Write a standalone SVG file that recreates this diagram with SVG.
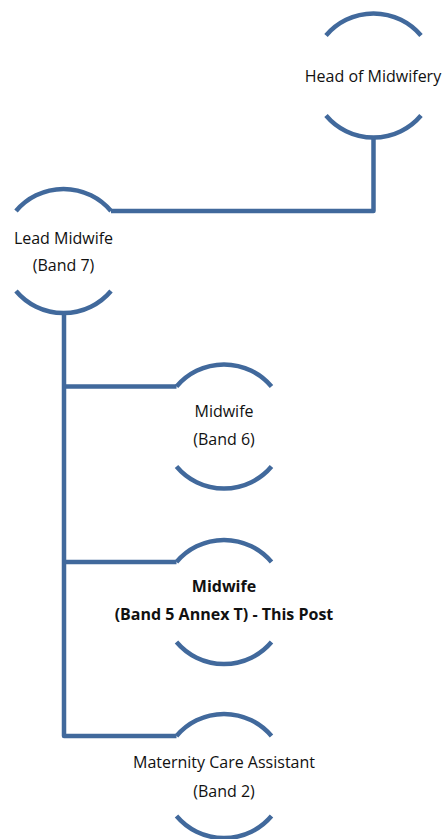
<svg xmlns="http://www.w3.org/2000/svg" width="444" height="839" viewBox="0 0 444 839">
<style>
.arc{fill:none;stroke:#41699c;stroke-width:4.5}
.con{fill:none;stroke:#41699c;stroke-width:4.5;stroke-linejoin:round}
text{font-family:"Open Sans","Liberation Sans",sans-serif;font-size:16px;fill:#111;text-anchor:middle}
.b{font-weight:bold}
</style>
<rect width="444" height="839" fill="#fff"/>
<g id="connectors">
<path class="con" d="M373.5,137.6 V211 H111"/>
<path class="con" d="M64,313 V736 H176.5 M64,386.5 H176.5 M64,562 H176.5"/>
</g>
<g id="head">
<path class="arc" d="M326,35.5 A62.1,62.1 0 0 1 421,35.5"/>
<path class="arc" d="M326,115.5 A62.1,62.1 0 0 0 421,115.5"/>
<text x="373" y="82">Head of Midwifery</text>
</g>
<g id="lead">
<path class="arc" d="M16,211 A62.1,62.1 0 0 1 111,211"/>
<path class="arc" d="M16,291 A62.1,62.1 0 0 0 111,291"/>
<text x="63.5" y="244">Lead Midwife</text>
<text x="63.5" y="271">(Band 7)</text>
</g>
<g id="band6">
<path class="arc" d="M176.5,386.5 A62.1,62.1 0 0 1 271.5,386.5"/>
<path class="arc" d="M176.5,466.5 A62.1,62.1 0 0 0 271.5,466.5"/>
<text x="224" y="417">Midwife</text>
<text x="224" y="445">(Band 6)</text>
</g>
<g id="band5">
<path class="arc" d="M176.5,562 A62.1,62.1 0 0 1 271.5,562"/>
<path class="arc" d="M176.5,642 A62.1,62.1 0 0 0 271.5,642"/>
<text class="b" x="224" y="592">Midwife</text>
<text class="b" x="224" y="620">(Band 5 Annex T) - This Post</text>
</g>
<g id="band2">
<path class="arc" d="M176.5,736 A62.1,62.1 0 0 1 271.5,736"/>
<path class="arc" d="M176.5,816 A62.1,62.1 0 0 0 271.5,816"/>
<text x="224" y="768">Maternity Care Assistant</text>
<text x="224" y="797">(Band 2)</text>
</g>
</svg>
